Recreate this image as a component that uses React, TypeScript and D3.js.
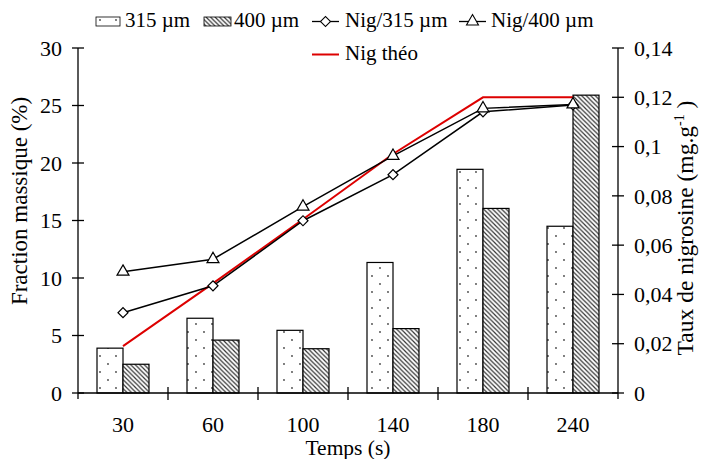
import React from "react";
import * as d3 from "d3";

const categories = ["30", "60", "100", "140", "180", "240"];
const frac315 = [3.9, 6.5, 5.45, 11.35, 19.45, 14.5];
const frac400 = [2.5, 4.6, 3.85, 5.6, 16.05, 25.9];
const nig315 = [0.0326, 0.0435, 0.0699, 0.0886, 0.1141, 0.1169];
const nig400 = [0.0492, 0.0543, 0.0756, 0.0962, 0.1155, 0.1171];
const nigTheo = [0.019, 0.0445, 0.0705, 0.097, 0.12, 0.12];
const leftTicks = [0, 5, 10, 15, 20, 25, 30];
const rightTicks = [0, 0.02, 0.04, 0.06, 0.08, 0.1, 0.12, 0.14];
const seriesKeys = ["315", "400"];

const W = 704, H = 459;
const X0 = 78, X1 = 618, YB = 393, YT = 48;
const FONT = "'Liberation Serif', 'Times New Roman', serif";
const RED = "#dd0000";

export default function App() {
  const x = d3.scaleBand<string>().domain(categories).range([X0, X1]).paddingInner(0).paddingOuter(0);
  const bw = x.bandwidth();
  const xs = d3.scaleBand<string>().domain(seriesKeys).range([bw / 2 - 26, bw / 2 + 26]);
  const yL = d3.scaleLinear().domain([0, 30]).range([YB, YT]);
  const yR = d3.scaleLinear().domain([0, 0.14]).range([YB, YT]);
  const cx = (c: string) => (x(c) as number) + bw / 2;

  const line = d3.line<number>().x((_, i) => cx(categories[i])).y((v) => yR(v));
  const tri = d3.symbol().type(d3.symbolTriangle).size(62)()!;
  const dia = d3.symbol().type(d3.symbolSquare).size(50)()!;
  const fmtR = (v: number) => (v === 0 ? "0" : String(+v.toFixed(2)).replace(".", ","));

  const bars: { k: string; vals: number[]; fill: string }[] = [
    { k: "315", vals: frac315, fill: "url(#dots)" },
    { k: "400", vals: frac400, fill: "url(#hatch)" },
  ];

  return (
    <svg width={W} height={H} style={{ position: "absolute", left: 0, top: 0, background: "#fff" }} fontFamily={FONT}>
      <defs>
        <pattern id="dots" patternUnits="userSpaceOnUse" width={16} height={16}>
          <rect width={16} height={16} fill="#fff" />
          <circle cx={4} cy={4} r={0.9} fill="#444" />
          <circle cx={12} cy={12} r={0.9} fill="#444" />
        </pattern>
        <pattern id="hatch" patternUnits="userSpaceOnUse" width={4.5} height={4.5}>
          <rect width={4.5} height={4.5} fill="#fff" />
          <path d="M-1,-1 L5.5,5.5 M-2.25,2.25 L2.25,6.75 M2.25,-2.25 L6.75,2.25" stroke="#333" strokeWidth={1.2} />
        </pattern>
      </defs>

      {/* bars */}
      {bars.map((s) =>
        s.vals.map((v, i) => (
          <rect
            key={s.k + i}
            x={(x(categories[i]) as number) + (xs(s.k) as number)}
            y={yL(v)}
            width={xs.bandwidth()}
            height={YB - yL(v)}
            fill={s.fill}
            stroke="#000"
            strokeWidth={1.2}
          />
        ))
      )}

      {/* axes */}
      <line x1={X0} x2={X1} y1={YB} y2={YB} stroke="#000" strokeWidth={1.3} />
      <line x1={X0} x2={X0} y1={YB + 6} y2={YT} stroke="#000" strokeWidth={1.3} />
      <line x1={X1} x2={X1} y1={YB + 6} y2={YT} stroke="#000" strokeWidth={1.3} />
      {leftTicks.map((t) => (
        <g key={"l" + t}>
          <line x1={X0 - 6} x2={X0 + 6} y1={yL(t)} y2={yL(t)} stroke="#000" strokeWidth={1.3} />
          <text x={X0 - 16} y={yL(t)} dy="0.35em" textAnchor="end" fontSize={22}>{t}</text>
        </g>
      ))}
      {rightTicks.map((t) => (
        <g key={"r" + t}>
          <line x1={X1 - 6} x2={X1 + 6} y1={yR(t)} y2={yR(t)} stroke="#000" strokeWidth={1.3} />
          <text x={X1 + 16} y={yR(t)} dy="0.35em" textAnchor="start" fontSize={22}>{fmtR(t)}</text>
        </g>
      ))}
      {categories.slice(1).map((c) => (
        <line key={"xt" + c} x1={x(c)} x2={x(c)} y1={YB - 6} y2={YB + 7} stroke="#000" strokeWidth={1.3} />
      ))}
      {categories.map((c) => (
        <text key={"xl" + c} x={cx(c)} y={432} textAnchor="middle" fontSize={22}>{c}</text>
      ))}
      <text x={(X0 + X1) / 2} y={455} textAnchor="middle" fontSize={21.5}>Temps (s)</text>
      <text transform="translate(27,201) rotate(-90)" textAnchor="middle" fontSize={23}>Fraction massique (%)</text>
      <text transform="translate(693,228) rotate(-90)" textAnchor="middle" fontSize={23.5}>
        Taux de nigrosine (mg.g
        <tspan fontSize={14} dy={-9}>-1</tspan>
        <tspan dy={9}> )</tspan>
      </text>

      {/* lines */}
      <path d={line(nigTheo)!} fill="none" stroke={RED} strokeWidth={2} />
      <path d={line(nig315)!} fill="none" stroke="#000" strokeWidth={1.5} />
      <path d={line(nig400)!} fill="none" stroke="#000" strokeWidth={1.5} />
      {nig315.map((v, i) => (
        <path key={"d" + i} d={dia} transform={`translate(${cx(categories[i])},${yR(v)}) rotate(45)`} fill="#fff" stroke="#000" strokeWidth={1.2} />
      ))}
      {nig400.map((v, i) => (
        <path key={"t" + i} d={tri} transform={`translate(${cx(categories[i])},${yR(v)})`} fill="#fff" stroke="#000" strokeWidth={1.2} />
      ))}

      {/* legend */}
      <g fontSize={21}>
        <rect x={96} y={17} width={24} height={9} fill="url(#dots)" stroke="#000" strokeWidth={0.8} />
        <text x={125} y={27}>315 µm</text>
        <rect x={204} y={17} width={27} height={9} fill="url(#hatch)" stroke="#000" strokeWidth={0.8} />
        <text x={234} y={27}>400 µm</text>
        <line x1={312} x2={339} y1={21.5} y2={21.5} stroke="#000" strokeWidth={1.3} />
        <path d={dia} transform="translate(325.5,21.5) rotate(45)" fill="#fff" stroke="#000" strokeWidth={1.1} />
        <text x={345} y={27}>Nig/315 µm</text>
        <line x1={459} x2={486} y1={21.5} y2={21.5} stroke="#000" strokeWidth={1.3} />
        <path d={tri} transform="translate(472.5,21.5)" fill="#fff" stroke="#000" strokeWidth={1.1} />
        <text x={491} y={27}>Nig/400 µm</text>
        <line x1={312} x2={339} y1={54.5} y2={54.5} stroke={RED} strokeWidth={2} />
        <text x={345} y={60}>Nig théo</text>
      </g>
    </svg>
  );
}
